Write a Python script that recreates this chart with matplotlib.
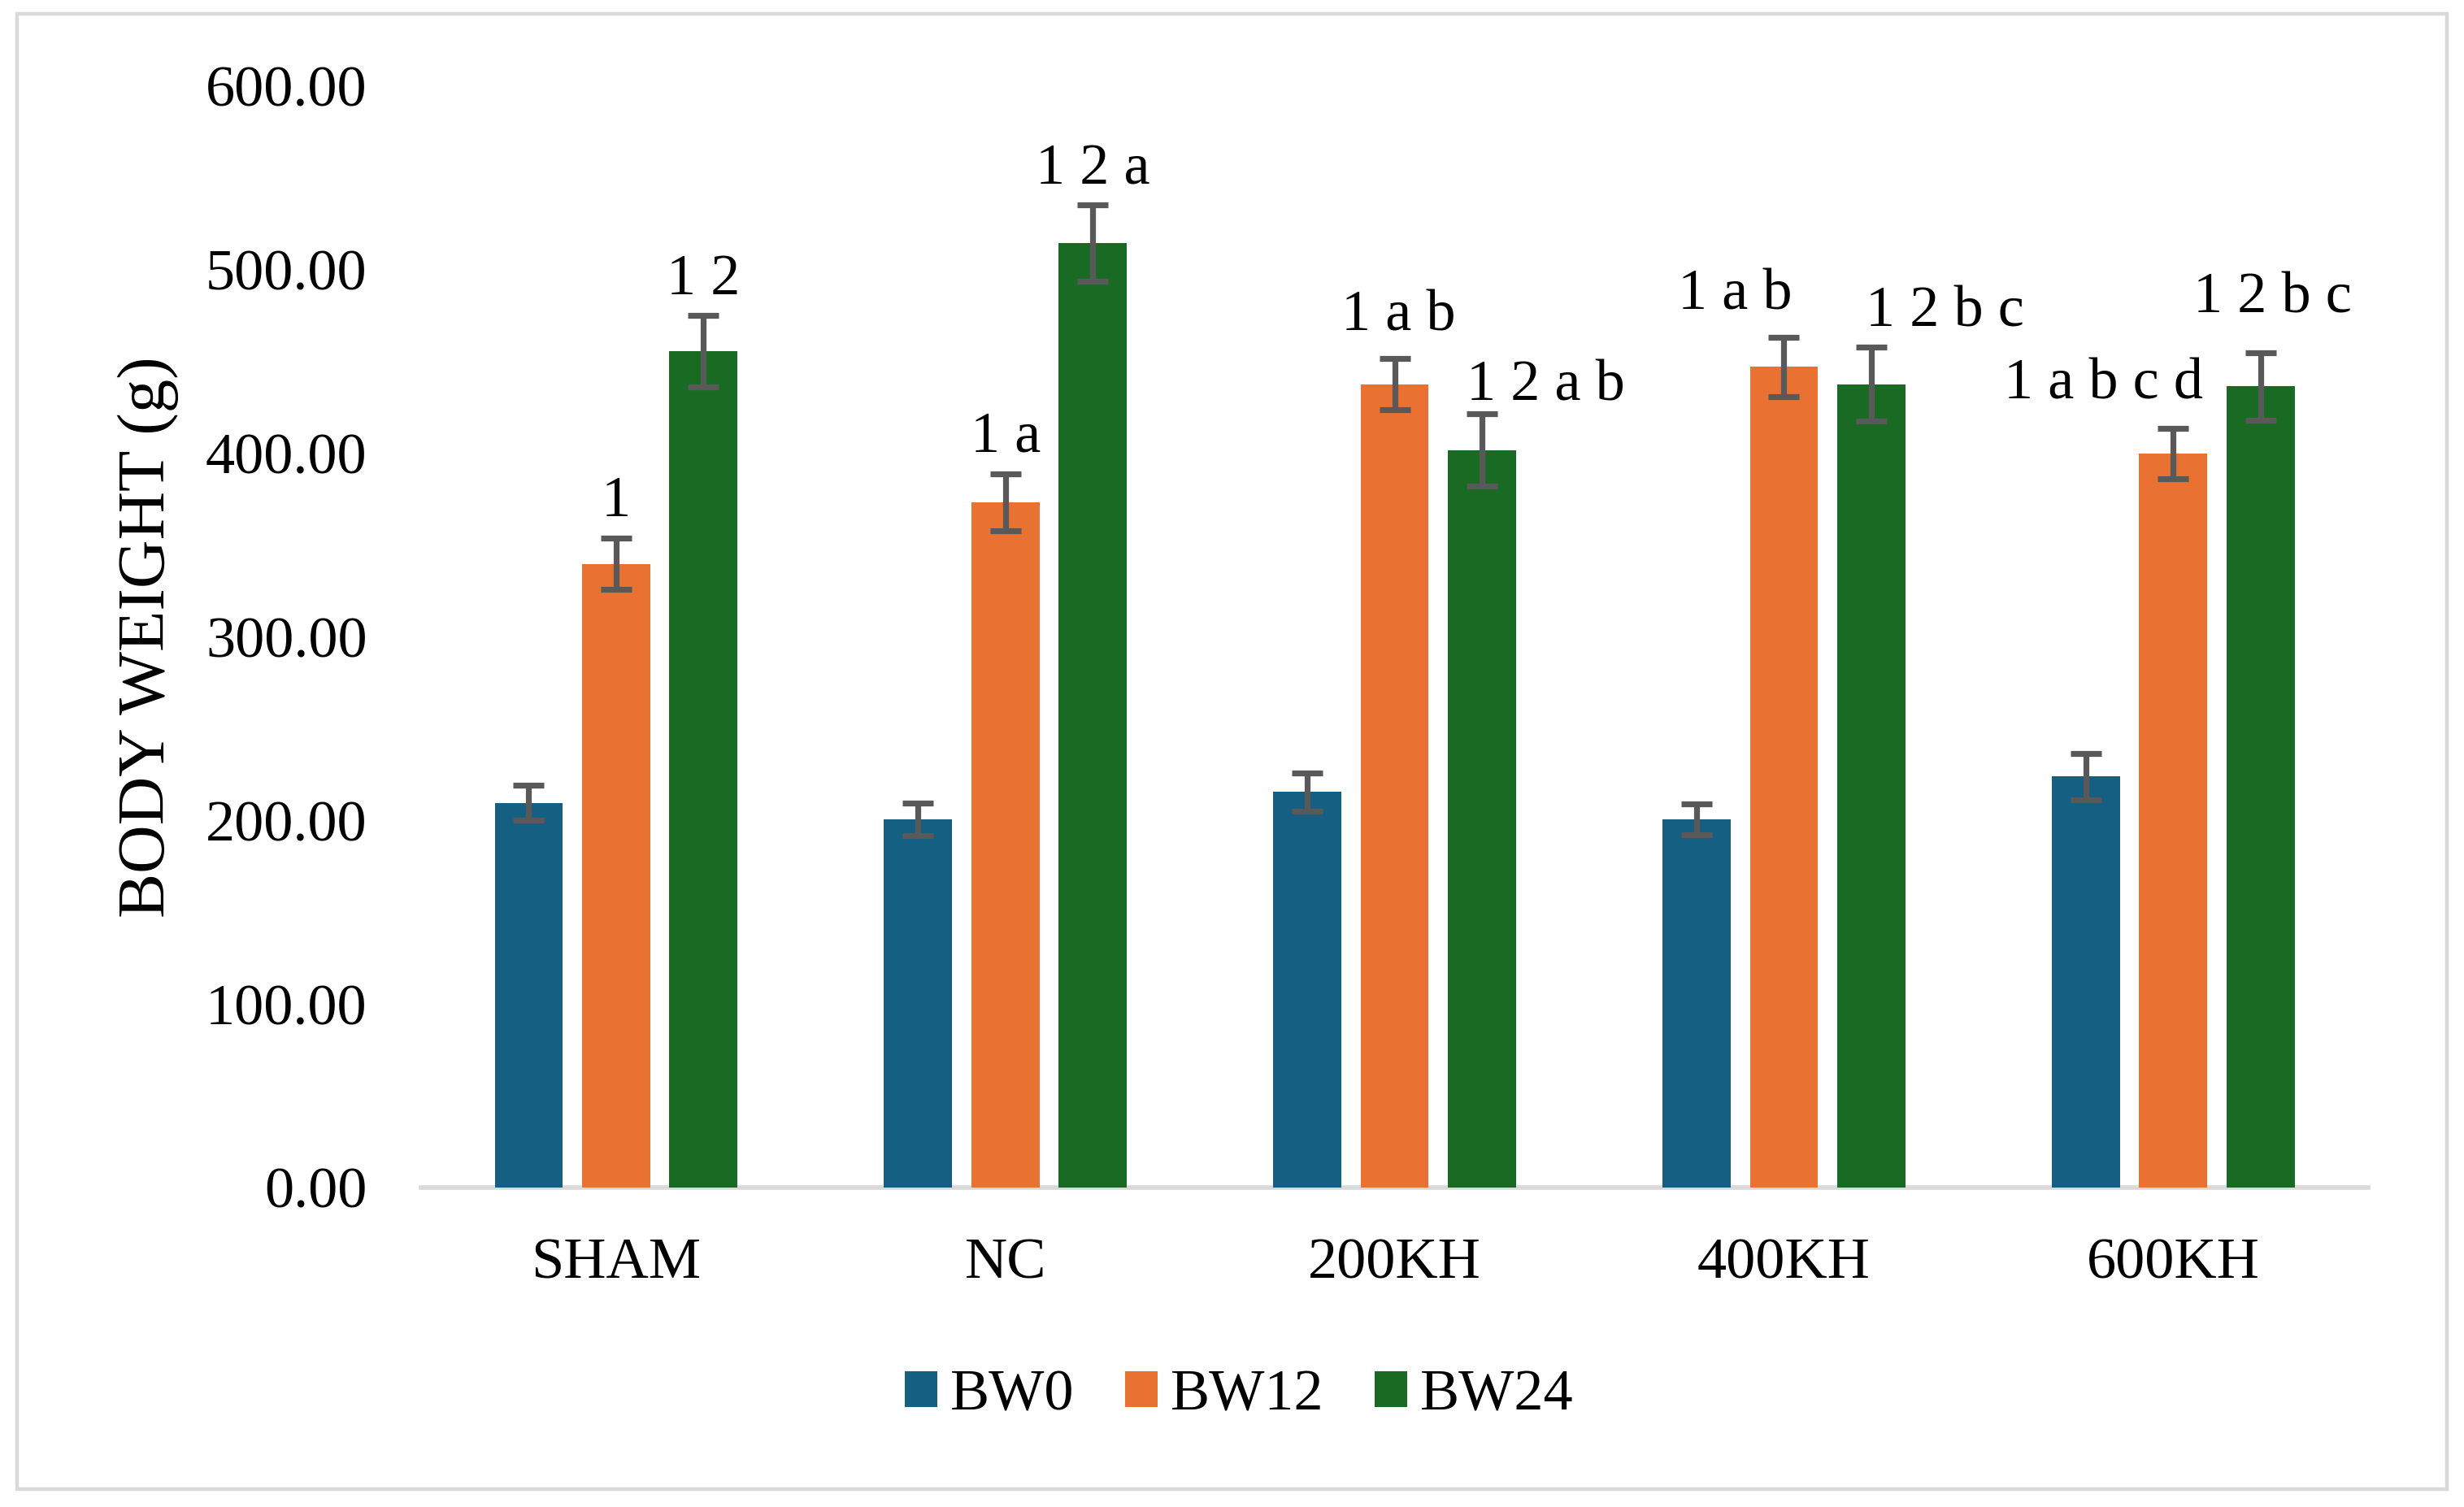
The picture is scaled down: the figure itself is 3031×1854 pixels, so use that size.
import numpy as np
import matplotlib
matplotlib.use("Agg")
import matplotlib.pyplot as plt
from matplotlib.patches import Rectangle

plt.rcParams['font.family'] = ['Liberation Serif', 'DejaVu Serif']

groups = ['SHAM', 'NC', '200KH', '400KH', '600KH']
series = ['BW0', 'BW12', 'BW24']

bw0 = [209.5, 200.5, 215.4, 200.6, 223.9]
bw12 = [339.6, 373.0, 437.6, 446.9, 399.9]
bw24 = [455.6, 514.4, 401.6, 437.6, 436.3]

bw0_err = [9.5, 9.0, 10.3, 8.3, 12.7]
bw12_err = [14.0, 15.5, 13.8, 16.0, 13.7]
bw24_err = [19.5, 20.8, 19.7, 20.1, 18.2]

bw12_labels = ['1', '1 a', '1 a b', '1 a b', '1 a b c d']
bw24_labels = ['1 2', '1 2 a', '1 2 a b', '1 2 b c', '1 2 b c']

colors = ['#156082', '#E97132', '#196B24']
err_color = '#595959'

# label placement (x shift in group units, gap above error bar in data units)
bw12_dx = [0.0, 0.0, 0.01, -0.125, -0.18]
bw12_gap = [20, 20, 23, 23, 24]
bw24_dx = [0.0, 0.0, 0.165, 0.19, 0.03]
bw24_gap = [19, 19, 15, 19, 30]

fig = plt.figure(figsize=(15.155, 9.27), dpi=200)
ax = fig.add_axes([0.171, 0.212, 0.790, 0.731])

x = np.arange(len(groups))
width = 0.175
offset = 0.224

means = [bw0, bw12, bw24]
errs = [bw0_err, bw12_err, bw24_err]
for i in range(3):
    xi = x + (i - 1) * offset
    ax.bar(xi, means[i], width, color=colors[i], label=series[i], zorder=2)
    ax.errorbar(xi, means[i], yerr=errs[i], fmt='none', ecolor=err_color,
                elinewidth=2.6, capsize=6.7, capthick=2.6, zorder=3)

for j in range(len(groups)):
    ax.text(x[j] + bw12_dx[j], bw12[j] + bw12_err[j] + bw12_gap[j], bw12_labels[j],
            ha='center', va='center', fontsize=26)
    ax.text(x[j] + offset + bw24_dx[j], bw24[j] + bw24_err[j] + bw24_gap[j], bw24_labels[j],
            ha='center', va='center', fontsize=26)

ax.set_xlim(-0.5, 4.5)
ax.set_ylim(0, 600)
ax.set_yticks(np.arange(0, 601, 100))
ax.set_yticklabels(['%.2f' % v for v in np.arange(0, 601, 100)])
ax.set_xticks(x)
ax.set_xticklabels(groups)
ax.tick_params(axis='both', length=0, labelsize=26)
ax.tick_params(axis='y', pad=24)
ax.tick_params(axis='x', pad=22)

for s in ['top', 'right', 'left']:
    ax.spines[s].set_visible(False)
ax.spines['bottom'].set_color('#D9D9D9')
ax.spines['bottom'].set_linewidth(2.0)
ax.spines['bottom'].set_zorder(1)

ax.set_ylabel('BODY WEIGHT (g)', fontsize=29.7, labelpad=12)

fig.legend(loc='center', bbox_to_anchor=(0.503, 0.074), ncol=3, frameon=False,
           fontsize=26, handlelength=0.55, handleheight=0.55, handletextpad=0.22,
           columnspacing=0.87)

fig.patches.append(Rectangle((0.007, 0.012), 0.986, 0.979, transform=fig.transFigure,
                             fill=False, edgecolor='#D9D9D9', linewidth=1.6))

fig.savefig('out.png', dpi=200)
